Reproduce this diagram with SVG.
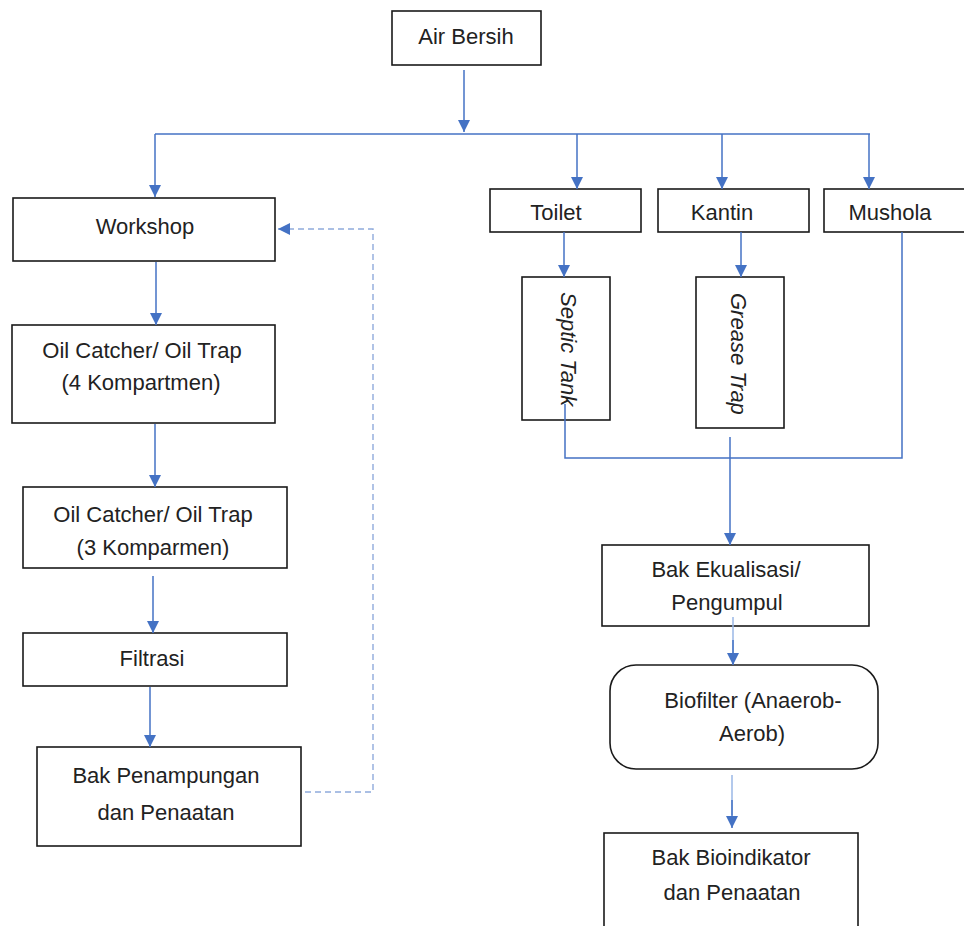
<svg xmlns="http://www.w3.org/2000/svg" width="964" height="926" viewBox="0 0 964 926">
<defs>
<marker id="ah" markerUnits="userSpaceOnUse" markerWidth="12" markerHeight="12" refX="12" refY="6" orient="auto">
<path d="M0,0 L12,6 L0,12 z" fill="#4472C4"/>
</marker>
<style>
.box{fill:#fff;stroke:#1a1a1a;stroke-width:1.6}
.t{font-family:"Liberation Sans",Arial,sans-serif;font-size:22px;fill:#222;text-anchor:middle}
.v{font-family:"Liberation Sans",Arial,sans-serif;font-size:22px;fill:#222;font-style:italic}
.c{fill:none;stroke:#4472C4;stroke-width:1.5}
.a{marker-end:url(#ah)}
.lt{stroke:#9ab7e6}
.d{fill:none;stroke:#8faadc;stroke-width:1.4;stroke-dasharray:6,4}
</style>
</defs>
<rect width="964" height="926" fill="#fff"/>
<g id="air-bersih"><rect class="box" x="392" y="11" width="149" height="54"/><text class="t" x="466" y="44">Air Bersih</text></g>
<g id="workshop"><rect class="box" x="13" y="198" width="262" height="63"/><text class="t" x="145" y="234">Workshop</text></g>
<g id="oil-trap-4"><rect class="box" x="12" y="325" width="263" height="98"/><text class="t" x="142" y="358">Oil Catcher/ Oil Trap</text><text class="t" x="141" y="390">(4 Kompartmen)</text></g>
<g id="oil-trap-3"><rect class="box" x="23" y="487" width="264" height="81"/><text class="t" x="153" y="522">Oil Catcher/ Oil Trap</text><text class="t" x="153" y="555">(3 Komparmen)</text></g>
<g id="filtrasi"><rect class="box" x="23" y="633" width="264" height="53"/><text class="t" x="152" y="666">Filtrasi</text></g>
<g id="bak-penampungan"><rect class="box" x="37" y="747" width="264" height="99"/><text class="t" x="166" y="783">Bak Penampungan</text><text class="t" x="166" y="820">dan Penaatan</text></g>
<g id="toilet"><rect class="box" x="490" y="189" width="151" height="43"/><text class="t" x="556" y="220">Toilet</text></g>
<g id="kantin"><rect class="box" x="658" y="189" width="151" height="43"/><text class="t" x="722" y="220">Kantin</text></g>
<g id="mushola"><rect class="box" x="824" y="189" width="145" height="43"/><text class="t" x="890" y="220">Mushola</text></g>
<g id="septic-tank"><rect class="box" x="522" y="277" width="88" height="143"/><text class="v" transform="translate(561,292) rotate(90)">Septic Tank</text></g>
<g id="grease-trap"><rect class="box" x="696" y="277" width="88" height="151"/><text class="v" transform="translate(731,293) rotate(90)">Grease Trap</text></g>
<g id="bak-ekualisasi"><rect class="box" x="602" y="545" width="267" height="81"/><text class="t" x="726" y="577">Bak Ekualisasi/</text><text class="t" x="727" y="610">Pengumpul</text></g>
<g id="biofilter"><rect class="box" x="610" y="665" width="268" height="104" rx="26"/><text class="t" x="753" y="708">Biofilter (Anaerob-</text><text class="t" x="752" y="741">Aerob)</text></g>
<g id="bak-bioindikator"><rect class="box" x="604" y="833" width="254" height="110"/><text class="t" x="731" y="865">Bak Bioindikator</text><text class="t" x="732" y="900">dan Penaatan</text></g>
<g id="connectors">
<path class="c a" d="M464,70 V132"/>
<path class="c" d="M155,134 H870"/>
<path class="c a" d="M155,134 V197"/>
<path class="c a" d="M577,134 V189"/>
<path class="c a" d="M722,134 V189"/>
<path class="c a" d="M869,134 V189"/>
<path class="c a" d="M156,262 V325"/>
<path class="c a" d="M155,424 V487"/>
<path class="c a" d="M153,576 V633"/>
<path class="c a" d="M150,687 V747"/>
<path class="d a" d="M305,792 H373 V229 H278"/>
<path class="c a" d="M564,232 V277"/>
<path class="c a" d="M741,232 V277"/>
<path class="c" d="M565,404 V458 H902 V232"/>
<path class="c a" d="M730,437 V545"/>
<path class="c lt" d="M733,617 V656"/>
<path class="c a" d="M733,640 V665"/>
<path class="c lt" d="M732,775 V815"/>
<path class="c a" d="M732,800 V828"/>
</g>
</svg>
